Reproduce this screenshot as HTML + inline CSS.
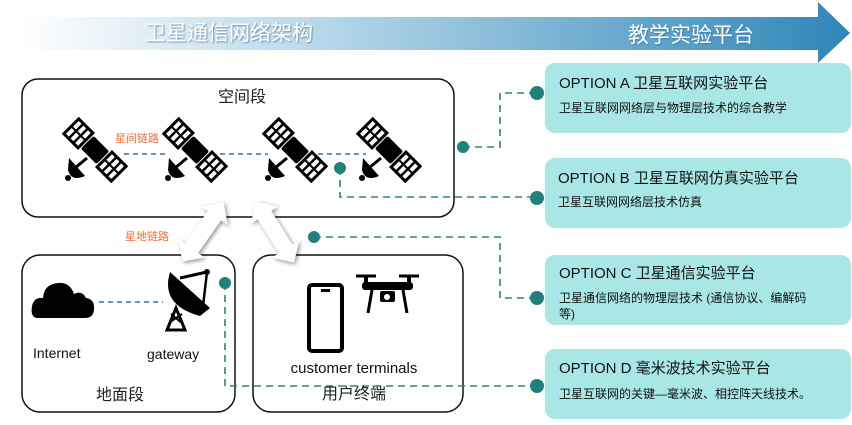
<!DOCTYPE html>
<html><head><meta charset="utf-8"><style>
body{margin:0;background:#fff;}
svg text{font-family:"Liberation Sans","Noto Sans CJK SC",sans-serif;}
</style></head><body>
<svg width="852" height="420" viewBox="0 0 852 420" xmlns="http://www.w3.org/2000/svg">
<defs>
<linearGradient id="g" x1="0" x2="1" y1="0" y2="0">
<stop offset="0" stop-color="#ffffff"/><stop offset="0.35" stop-color="#b9d9ea"/><stop offset="1" stop-color="#2e86b8"/>
</linearGradient>
<filter id="sh" x="-30%" y="-30%" width="160%" height="160%"><feDropShadow dx="1.5" dy="1.5" stdDeviation="2" flood-color="#000" flood-opacity="0.45"/></filter>
<filter id="ts"><feDropShadow dx="1" dy="1" stdDeviation="0.8" flood-color="#3a6f8c" flood-opacity="0.7"/></filter>
<g id="sat">
<g transform="rotate(45)">
<rect x="-11" y="-9" width="22" height="18" rx="2" fill="#000"/>
<rect x="-35" y="-12" width="23" height="24" fill="#000"/>
<rect x="12" y="-12" width="23" height="24" fill="#000"/>
<g fill="#fff">
<rect x="-32" y="-9" width="4" height="8"/><rect x="-32" y="1" width="4" height="8"/>
<rect x="-25.5" y="-9" width="4" height="8"/><rect x="-25.5" y="1" width="4" height="8"/>
<rect x="-19" y="-9" width="4" height="8"/><rect x="-19" y="1" width="4" height="8"/>
<rect x="15" y="-9" width="4" height="8"/><rect x="15" y="1" width="4" height="8"/>
<rect x="21.5" y="-9" width="4" height="8"/><rect x="21.5" y="1" width="4" height="8"/>
<rect x="28" y="-9" width="4" height="8"/><rect x="28" y="1" width="4" height="8"/>
</g></g>
<path d="M-26 8 L-10 26 Q-24 32 -27 20 Z" fill="#000"/>
<circle cx="-27" cy="28" r="3" fill="#000"/>
<line x1="-20" y1="18" x2="-8" y2="8" stroke="#000" stroke-width="3"/>
</g>
</defs>

<polygon points="20,17 818,17 818,2 850,33 818,63 818,50 20,50" fill="url(#g)"/>
<text x="145" y="40" font-size="21" fill="#fff" filter="url(#ts)">卫星通信网络架构</text>
<text x="628" y="42" font-size="21" fill="#fff" filter="url(#ts)">教学实验平台</text>

<rect x="22" y="79" width="432" height="138" rx="16" fill="#fff" stroke="#111" stroke-width="1.5"/>
<text x="242" y="102" font-size="16" text-anchor="middle" fill="#222">空间段</text>
<g stroke="#2e75b6" stroke-width="1.6" stroke-dasharray="5,4">
<line x1="124" y1="154" x2="168" y2="154"/><line x1="220" y1="154" x2="268" y2="154"/><line x1="318" y1="154" x2="366" y2="154"/>
</g>
<use href="#sat" x="95" y="150"/><use href="#sat" x="195" y="150"/><use href="#sat" x="295" y="150"/><use href="#sat" x="389" y="150"/>
<rect x="114" y="129" width="48" height="15" fill="#fff"/>
<text x="115" y="142" font-size="11" fill="#f0703a">星间链路</text>
<text x="125" y="240" font-size="11" fill="#f0703a">星地链路</text>

<rect x="22" y="255" width="213" height="157" rx="18" fill="#fff" stroke="#111" stroke-width="1.5"/>
<rect x="253" y="255" width="210" height="157" rx="18" fill="#fff" stroke="#111" stroke-width="1.5"/>

<g stroke="#2a8585" stroke-width="1.6" stroke-dasharray="7,5" fill="none">
<polyline points="463,147 500,147 500,93 537,93"/>
<polyline points="340,168 340,197 537,197"/>
<polyline points="314,237 500,237 500,298 537,298"/>
<polyline points="225,283 225,386 537,386"/>
</g>
<g fill="#217f7c">
<circle cx="340" cy="168" r="6"/><circle cx="463" cy="147" r="6"/><circle cx="314" cy="237" r="6"/><circle cx="225" cy="283" r="6"/>
<circle cx="537" cy="93" r="7"/><circle cx="537" cy="198" r="7"/><circle cx="537" cy="298" r="7"/><circle cx="537" cy="386" r="7"/>
</g>

<g fill="#fff" filter="url(#sh)">
<polygon transform="translate(203,232) rotate(-55)" points="-36,0 -20,-16 -20,-8 20,-8 20,-16 36,0 20,16 20,8 -20,8 -20,16"/>
<polygon transform="translate(275,232) rotate(58)" points="-36,0 -20,-16 -20,-8 20,-8 20,-16 36,0 20,16 20,8 -20,8 -20,16"/>
</g>

<path d="M38 318 Q30 318 32 306 Q34 297 43 298 Q44 284 58 283 Q70 282 74 294 Q82 290 86 298 Q95 299 94 310 Q93 318 85 318 Z" fill="#000"/>
<line x1="99" y1="302" x2="163" y2="302" stroke="#2e75b6" stroke-width="1.6" stroke-dasharray="5,4"/>
<text x="33" y="358" font-size="14" fill="#111">Internet</text>
<g>
<path d="M170 272 Q160 305 200 316 L210 308 Z" fill="#000"/>
<line x1="180" y1="278" x2="207" y2="272" stroke="#000" stroke-width="3"/>
<line x1="207" y1="272" x2="203" y2="306" stroke="#000" stroke-width="2.5"/>
<circle cx="207" cy="272" r="3" fill="#000"/>
<polygon points="167,330 176,308 185,330" fill="none" stroke="#000" stroke-width="3"/>
<line x1="170" y1="322" x2="182" y2="314" stroke="#000" stroke-width="2"/>
<line x1="171" y1="314" x2="183" y2="324" stroke="#000" stroke-width="2"/>
</g>
<text x="147" y="359" font-size="14" fill="#111">gateway</text>
<text x="120" y="400" font-size="16" text-anchor="middle" fill="#222">地面段</text>

<rect x="309" y="285" width="33" height="66" rx="3" fill="none" stroke="#000" stroke-width="4"/>
<rect x="321" y="289" width="9" height="3" fill="#000"/>
<g fill="#000" stroke="#000">
<line x1="356" y1="276" x2="376" y2="276" stroke-width="3"/><line x1="399" y1="276" x2="419" y2="276" stroke-width="3"/>
<rect x="364" y="276" width="4" height="8" stroke="none"/><rect x="407" y="276" width="4" height="8" stroke="none"/>
<rect x="362" y="282" width="51" height="8" rx="3" stroke="none"/>
<path d="M372 290 L368 313" stroke-width="3" fill="none"/><path d="M403 290 L407 313" stroke-width="3" fill="none"/>
<rect x="380" y="291" width="15" height="11" rx="2" stroke="none"/>
</g>
<circle cx="387" cy="297" r="3" fill="#fff"/>
<text x="354" y="373" font-size="15" text-anchor="middle" fill="#111">customer terminals</text>
<text x="354" y="399" font-size="16" text-anchor="middle" fill="#222">用户终端</text>

<g fill="#a9e7e7">
<rect x="545" y="63" width="306" height="70" rx="10"/>
<rect x="545" y="158" width="306" height="70" rx="10"/>
<rect x="545" y="255" width="306" height="70" rx="10"/>
<rect x="545" y="349" width="306" height="70" rx="10"/>
</g>
<g fill="#111">
<text x="559" y="88" font-size="15">OPTION A  卫星互联网实验平台</text>
<text x="559" y="112" font-size="12">卫星互联网网络层与物理层技术的综合教学</text>
<text x="558" y="183" font-size="15">OPTION B  卫星互联网仿真实验平台</text>
<text x="558" y="206" font-size="12">卫星互联网网络层技术仿真</text>
<text x="559" y="278" font-size="15">OPTION C  卫星通信实验平台</text>
<text x="559" y="302" font-size="12">卫星通信网络的物理层技术 (通信协议、编解码</text>
<text x="559" y="318" font-size="12">等)</text>
<text x="559" y="373" font-size="15">OPTION D  毫米波技术实验平台</text>
<text x="559" y="398" font-size="12">卫星互联网的关键—毫米波、相控阵天线技术。</text>
</g>
</svg>
</body></html>
